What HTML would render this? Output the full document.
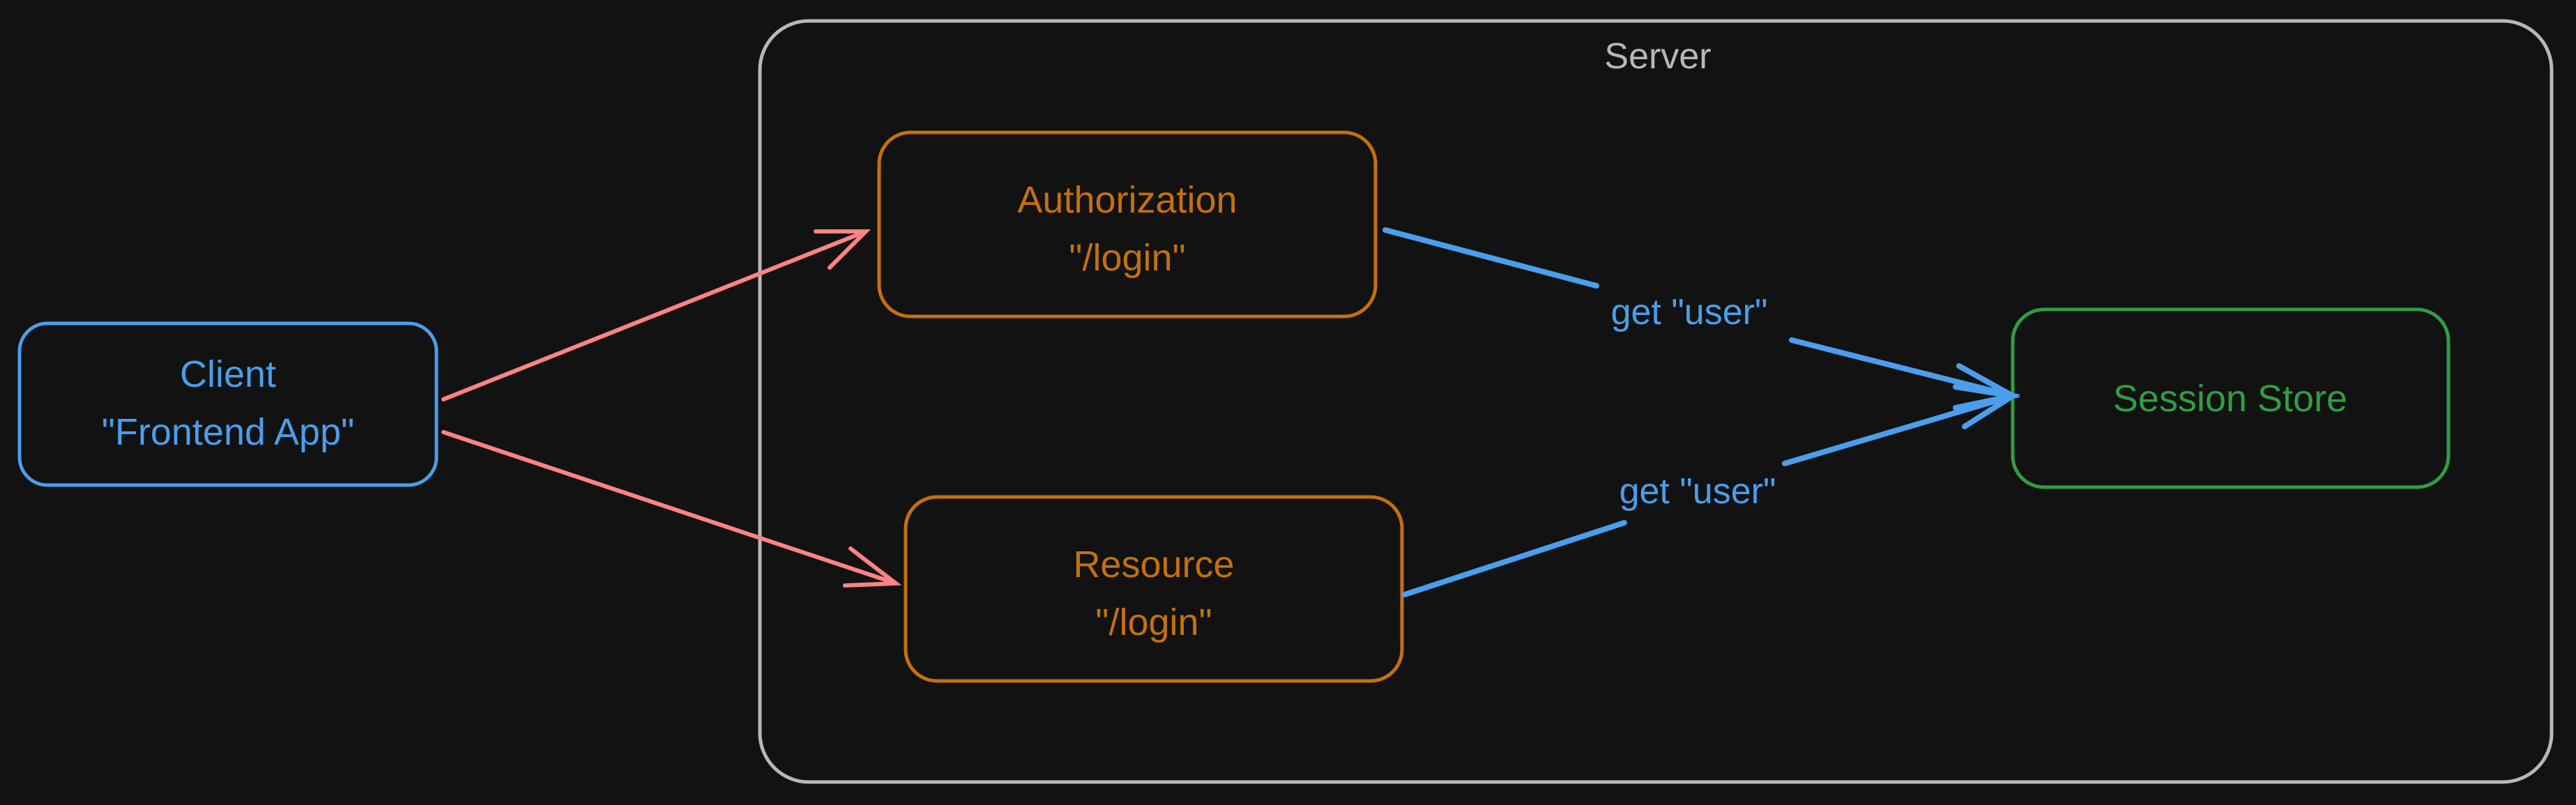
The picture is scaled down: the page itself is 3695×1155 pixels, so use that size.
<!DOCTYPE html>
<html><head><meta charset="utf-8"><style>
html,body{margin:0;padding:0;background:#121212;}
svg{display:block}
text{font-family:"Liberation Sans",sans-serif;text-anchor:middle;}
</style></head><body>
<svg width="3695" height="1155" viewBox="0 0 3695 1155" xmlns="http://www.w3.org/2000/svg">
<rect width="3695" height="1155" fill="#121212"/>
<!-- Server -->
<rect x="1090" y="30" width="2570" height="1092" rx="70" fill="none" stroke="#b8b8b8" stroke-width="5"/>
<text x="2378" y="98" font-size="52" fill="#b8b8b8">Server</text>
<!-- Client -->
<rect x="28" y="464" width="598" height="232" rx="40" fill="none" stroke="#4a9eed" stroke-width="5"/>
<text x="327" y="555" font-size="54" fill="#4a9eed">Client</text>
<text x="327" y="638" font-size="54" fill="#4a9eed">"Frontend App"</text>
<!-- Authorization -->
<rect x="1261" y="190" width="712" height="264" rx="45" fill="none" stroke="#c5700d" stroke-width="5"/>
<text x="1617" y="305" font-size="54" fill="#c5700d">Authorization</text>
<text x="1617" y="388" font-size="54" fill="#c5700d">"/login"</text>
<!-- Resource -->
<rect x="1299" y="713" width="712" height="264" rx="45" fill="none" stroke="#c5700d" stroke-width="5"/>
<text x="1655" y="828" font-size="54" fill="#c5700d">Resource</text>
<text x="1655" y="911" font-size="54" fill="#c5700d">"/login"</text>
<!-- Session Store -->
<rect x="2887" y="444" width="625" height="255" rx="45" fill="none" stroke="#2f9e44" stroke-width="5"/>
<text x="3199" y="590" font-size="54" fill="#2f9e44">Session Store</text>
<!-- red arrows -->
<g stroke="#ff8383" stroke-width="6" fill="none" stroke-linecap="round">
<line x1="636" y1="573" x2="1242" y2="332"/>
<polyline points="1170,332 1242,332 1190,384"/>
<line x1="636" y1="620" x2="1285" y2="837"/>
<polyline points="1220,787 1285,837 1212,840"/>
</g>
<!-- blue arrows -->
<g stroke="#4a9eed" stroke-width="8" fill="none" stroke-linecap="round">
<line x1="1987" y1="330" x2="2290" y2="410"/>
<line x1="2570" y1="488" x2="2887" y2="568"/>
<polyline points="2810,525 2887,568 2805,585"/>
<line x1="2015" y1="853" x2="2330" y2="750"/>
<line x1="2560" y1="665" x2="2887" y2="568"/>
<polyline points="2805,555 2887,568 2818,612"/>
</g>
<text x="2423" y="465" font-size="52" fill="#4a9eed">get "user"</text>
<text x="2435" y="722" font-size="52" fill="#4a9eed">get "user"</text>
</svg>
</body></html>
